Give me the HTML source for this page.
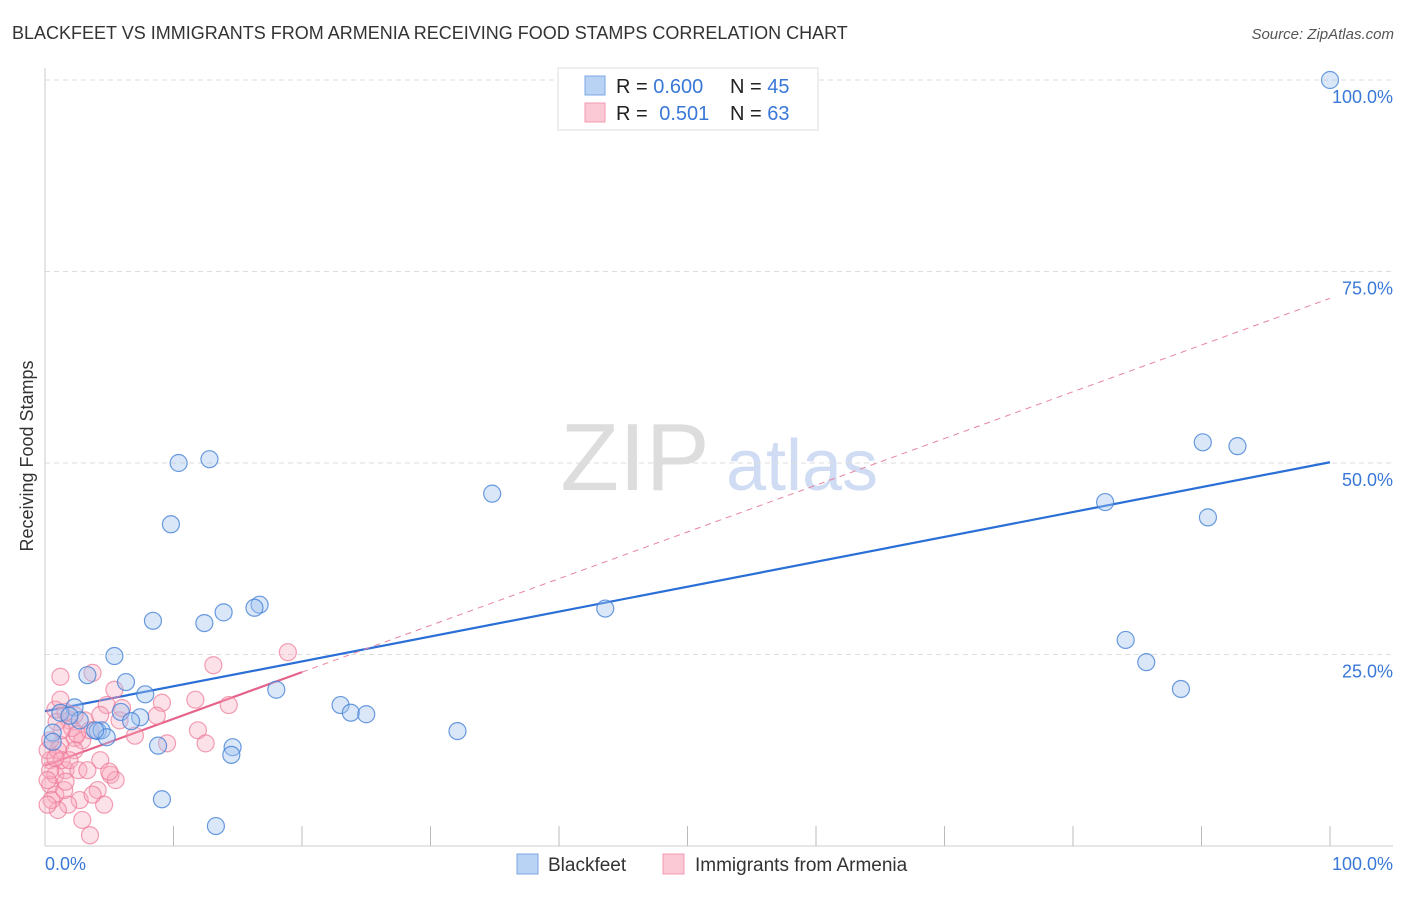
<!DOCTYPE html>
<html><head><meta charset="utf-8"><style>
body{margin:0;background:#fff;font-family:"Liberation Sans",sans-serif;}
svg text{font-family:"Liberation Sans",sans-serif;}
</style></head><body>
<svg id="chart" width="1406" height="892" xmlns="http://www.w3.org/2000/svg">
<text x="12" y="39" font-size="18" fill="#333">BLACKFEET VS IMMIGRANTS FROM ARMENIA RECEIVING FOOD STAMPS CORRELATION CHART</text>
<text x="1394" y="39" font-size="15" fill="#555" font-style="italic" text-anchor="end">Source: ZipAtlas.com</text>
<text transform="translate(33,456) rotate(-90)" font-size="18" fill="#333" text-anchor="middle">Receiving Food Stamps</text>
<g>
<text x="635" y="490" font-size="96" fill="#ddd" font-family="Liberation Serif,serif" text-anchor="middle">ZIP</text>
<text x="802" y="490" font-size="72" fill="#cfdcf3" text-anchor="middle">atlas</text>
</g>
<g id="grid"></g><g id="axes"></g><g id="lines"></g><g id="pts"></g>
<g>
<rect x="558" y="68" width="260" height="62" fill="#fff" stroke="#ddd"/>
<rect x="585" y="76" width="20" height="19" fill="#b9d3f5" stroke="#7aa7e6"/>
<rect x="585" y="103" width="20" height="19" fill="#fbc9d6" stroke="#f199b0"/>
<text x="616" y="93" font-size="20" fill="#222">R = <tspan fill="#3a78d8">0.600</tspan></text>
<text x="730" y="93" font-size="20" fill="#222">N = <tspan fill="#3a78d8">45</tspan></text>
<text x="616" y="120" font-size="20" fill="#222">R = <tspan fill="#3a78d8" dx="6">0.501</tspan></text>
<text x="730" y="120" font-size="20" fill="#222">N = <tspan fill="#3a78d8">63</tspan></text>
</g>
<g>
<rect x="517" y="854" width="21" height="20" fill="#b9d3f5" stroke="#7aa7e6"/>
<text x="548" y="871" font-size="19" fill="#333">Blackfeet</text>
<rect x="663" y="854" width="21" height="20" fill="#fbc9d6" stroke="#f199b0"/>
<text x="695" y="871" font-size="19" fill="#333">Immigrants from Armenia</text>
</g>
</svg>
<script>
const blueX=[100,10.4,12.8,9.8,34.8,90.1,92.8,82.5,90.5,43.6,84.1,85.7,88.4,16.7,16.3,13.9,12.4,8.4,5.4,6.3,3.3,7.8,18.0,23.0,23.8,25.0,32.1,2.3,1.2,5.9,7.4,6.7,2.7,4.1,4.4,4.8,0.6,0.6,8.8,14.6,14.5,9.1,13.3,1.9,3.9];
const blueY=[100,50.0,50.5,42.0,46.0,52.7,52.2,44.9,42.9,31.0,26.9,24.0,20.5,31.5,31.1,30.5,29.1,29.4,24.8,21.4,22.3,19.8,20.4,18.4,17.4,17.2,15.0,18.1,17.4,17.5,16.8,16.3,16.4,15.0,15.1,14.2,14.8,13.6,13.1,12.9,11.9,6.1,2.6,17.0,15.1];
const pinkX=[18.9,13.1,3.7,1.2,5.4,9.1,11.7,14.3,4.8,8.7,11.9,12.5,9.5,7.0,0.8,1.9,2.3,2.9,4.3,5.1,4.1,5.5,2.7,1.8,4.6,0.8,0.4,1.0,2.9,3.5,0.4,0.8,1.6,0.2,1.2,2.1,1.0,1.3,2.3,3.1,3.5,0.4,0.2,0.5,1.5,1.9,2.6,1.3,0.9,1.6,0.4,5.8,5.0,1.2,3.3,4.3,2.3,0.8,1.6,3.7,0.2,2.5,6.0];
const pinkY=[25.3,23.6,22.6,22.1,20.4,18.7,19.1,18.4,18.4,17.0,15.1,13.4,13.4,14.4,17.8,16.4,14.1,13.8,11.2,9.3,7.3,8.6,6.0,5.4,5.4,6.7,8.0,4.7,3.4,1.4,11.2,9.3,9.9,12.5,13.2,15.4,12.5,11.2,12.5,16.4,15.1,9.9,8.6,6.0,7.3,11.2,9.9,15.1,16.2,17.5,13.8,16.4,9.7,19.1,9.9,17.1,17.1,11.5,8.4,6.7,5.4,14.6,18.0];
const yTicks=[25,50,75,100];
const xTickVals=[10,20,30,40,50,60,70,80,90,100];
const blueFit=[17.6,50.1];
const pinkFit=[10.5,0.61];
const X0=45,X1=1330,Y0=846,Y1=80;
const sx=v=>X0+(X1-X0)*v/100, sy=v=>Y0-(Y0-Y1)*v/100;
const NS="http://www.w3.org/2000/svg";
function mk(tag,attrs,parent){const e=document.createElementNS(NS,tag);for(const k in attrs)e.setAttribute(k,attrs[k]);document.getElementById(parent).appendChild(e);return e;}
yTicks.forEach(t=>{
 const l=mk('line',{x1:X0,x2:1393,y1:sy(t),y2:sy(t),stroke:'#ddd','stroke-dasharray':'5,4'},'grid');
 
 
 const tx=mk('text',{x:1393,y:sy(t)+23,'font-size':18,fill:'#3a78d8','text-anchor':'end'},'grid');
 tx.textContent=t.toFixed(1)+'%';
 
 
});
mk('line',{x1:X0,x2:X0,y1:68,y2:Y0,stroke:'#ccc'},'axes');
mk('line',{x1:X0,x2:1393,y1:Y0,y2:Y0,stroke:'#ccc'},'axes');
xTickVals.forEach(t=>{
 const l=mk('line',{x1:sx(t),x2:sx(t),y1:Y0-20,y2:Y0,stroke:'#bbb'},'axes');
 
 
});
const xl0=mk('text',{x:45,y:870,'font-size':18,fill:'#3a78d8'},'axes');xl0.textContent='0.0%';


const xl1=mk('text',{x:1393,y:870,'font-size':18,fill:'#3a78d8','text-anchor':'end'},'axes');xl1.textContent='100.0%';


function dot(x,y,fill,stroke,name){const c=mk('circle',{cx:sx(x),cy:sy(y),r:8.5,fill:fill,stroke:stroke,'stroke-width':1.2},'pts');
 
 }
pinkX.forEach((x,i)=>dot(x,pinkY[i],'rgba(248,168,190,0.35)','rgba(236,120,150,0.7)','armenia-point'));
blueX.forEach((x,i)=>dot(x,blueY[i],'rgba(160,195,240,0.4)','rgba(70,130,215,0.8)','blackfeet-point'));
const bl=mk('line',{x1:sx(0),y1:sy(blueFit[0]),x2:sx(100),y2:sy(blueFit[1]),stroke:'#2a6fd6','stroke-width':2.2},'lines');


const pf=x=>pinkFit[0]+pinkFit[1]*x;
const pd=mk('line',{x1:sx(20),y1:sy(pf(20)),x2:sx(100),y2:sy(pf(100)),stroke:'#e8849f','stroke-width':1,'stroke-dasharray':'6,5'},'lines');


const ps=mk('line',{x1:sx(0),y1:sy(pf(0)),x2:sx(20),y2:sy(pf(20)),stroke:'#e5638a','stroke-width':2.2},'lines');


</script>
</body></html>
